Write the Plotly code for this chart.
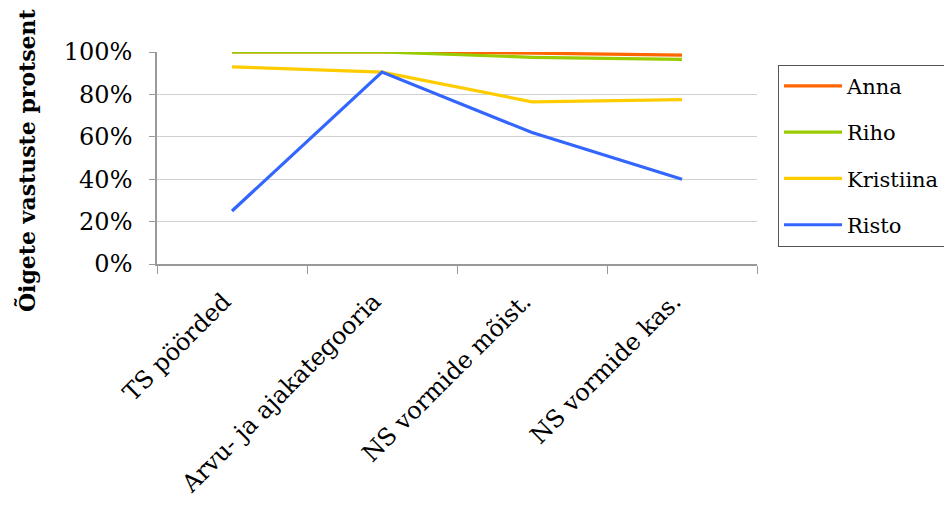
import plotly.graph_objects as go

categories = ["TS pöörded", "Arvu- ja ajakategooria", "NS vormide mõist.", "NS vormide kas."]
anna = [1.00, 1.00, 0.995, 0.985]
riho = [1.00, 1.00, 0.975, 0.965]
kristiina = [0.93, 0.905, 0.765, 0.775]
risto = [0.25, 0.905, 0.62, 0.40]
y_ticks = [0, 0.2, 0.4, 0.6, 0.8, 1.0]
y_tick_labels = ["0%", "20%", "40%", "60%", "80%", "100%"]

series = [
    ("Anna", anna, "#FF6600"),
    ("Riho", riho, "#99CC00"),
    ("Kristiina", kristiina, "#FFCC00"),
    ("Risto", risto, "#3366FF"),
]

fig = go.Figure()
for name, vals, color in series:
    fig.add_trace(go.Scatter(
        x=categories, y=vals, name=name, mode="lines",
        line=dict(color=color, width=3.2), cliponaxis=False,
        legendgroup=name,
    ))

font_family = "DejaVu Serif"
fig.update_layout(
    width=944, height=497,
    margin=dict(l=149, r=195, t=44, b=241, autoexpand=False),
    plot_bgcolor="white", paper_bgcolor="white",
    font=dict(family=font_family, size=24, color="black"),
    showlegend=True,
    legend=dict(
        x=1.035, y=0.94, xanchor="left", yanchor="top",
        bordercolor="#555555", borderwidth=1, bgcolor="white",
        font=dict(family=font_family, size=21, color="black"),
        tracegroupgap=16, itemwidth=58,
    ),
    xaxis=dict(
        type="category", range=[-0.5, 3.5], automargin=False,
        tickson="boundaries", ticks="outside", ticklen=8, tickcolor="#999999",
        showline=True, linecolor="#999999", linewidth=1.5,
        showgrid=False, tickangle=-45,
        ticklabelstandoff=12, ticklabelshift=-8,
        tickfont=dict(family=font_family, size=24),
    ),
    yaxis=dict(
        range=[0, 1], tickvals=y_ticks, ticktext=y_tick_labels, automargin=False,
        ticks="outside", ticklen=6, tickcolor="#999999",
        showline=True, linecolor="#999999", linewidth=1.5,
        showgrid=True, gridcolor="#D0D0D0", gridwidth=1,
        zeroline=False, ticklabelstandoff=12,
        tickfont=dict(family=font_family, size=24),
    ),
    annotations=[dict(
        text="<b>Õigete vastuste protsent</b>", textangle=-90,
        xref="paper", yref="paper", x=-0.2167, y=0.49,
        xanchor="center", yanchor="middle", showarrow=False,
        font=dict(family=font_family, size=22, color="black"),
    )],
)

fig.write_html("out.html")
